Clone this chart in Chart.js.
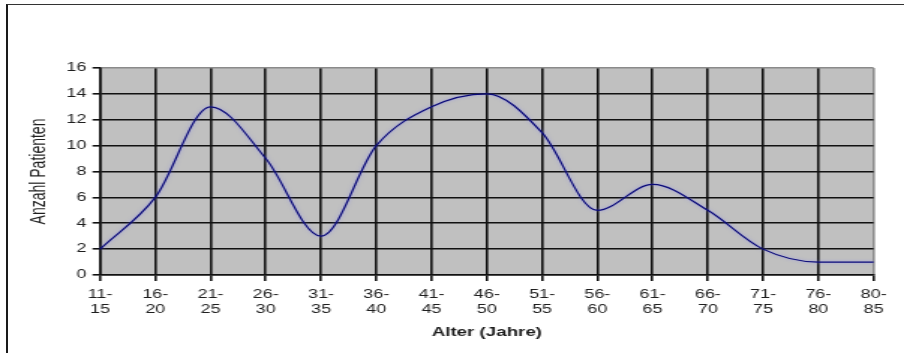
<!DOCTYPE html>
<html>
<head>
<meta charset="utf-8">
<script src="https://cdn.jsdelivr.net/npm/chart.js@4/dist/chart.umd.min.js"></script>
<style>
  html, body { margin: 0; padding: 0; background: #fff; }
  #wrap { position: relative; width: 904px; height: 353px; overflow: hidden; background: #fff; }
  #frame { position: absolute; left: 6px; top: 4px; width: 1000px; height: 1000px;
           border-left: 2px solid #1a1a1a; border-top: 1px solid #333; box-sizing: border-box; }
  #c { position: absolute; left: 0; top: 0; transform-origin: 0 0; }
</style>
</head>
<body>
<div id="wrap">
  <div id="frame"></div>
  <canvas id="c" width="603" height="353"></canvas>
</div>
<script>
// Age groups (two-line labels) and patient counts
const ageFrom = ['11-', '16-', '21-', '26-', '31-', '36-', '41-', '46-', '51-', '56-', '61-', '66-', '71-', '76-', '80-'];
const ageTo   = ['15', '20', '25', '30', '35', '40', '45', '50', '55', '60', '65', '70', '75', '80', '85'];
const patients = [2, 6, 13, 9, 3, 10, 13, 14, 11, 5, 7, 5, 2, 1, 1];
const yTicks = [0, 2, 4, 6, 8, 10, 12, 14, 16];

const xTitle = 'Alter (Jahre)';
const yTitle = 'Anzahl Patienten';

// The chart is laid out on a narrow canvas and widened to the page width
const canvas = document.getElementById('c');
const stretch = 904 / canvas.width;
canvas.style.transform = 'scaleX(' + stretch + ')';

const labels = ageFrom.map((a, i) => [a, ageTo[i]]);

const plotBackground = {
  id: 'plotBackground',
  beforeDraw(chart) {
    const { ctx, chartArea: a } = chart;
    ctx.save();
    ctx.fillStyle = '#c0c0c0';
    ctx.fillRect(a.left, a.top, a.right - a.left, a.bottom - a.top);
    ctx.restore();
  }
};

const lineGlow = {
  id: 'lineGlow',
  beforeDatasetsDraw(chart) {
    const ctx = chart.ctx;
    ctx.save();
    ctx.shadowColor = 'rgba(120,120,255,0.6)';
    ctx.shadowBlur = 3;
  },
  afterDatasetsDraw(chart) {
    chart.ctx.restore();
  }
};

const tickFont = { family: "'Liberation Sans', Arial, sans-serif", size: 12, lineHeight: 1.25 };

new Chart(canvas, {
  type: 'line',
  data: {
    labels: labels,
    datasets: [{
      data: patients,
      borderColor: '#0a0a78',
      borderWidth: 1.2,
      pointRadius: 0,
      pointHoverRadius: 0,
      cubicInterpolationMode: 'monotone',
      fill: false
    }]
  },
  plugins: [plotBackground, lineGlow],
  options: {
    responsive: false,
    animation: false,
    events: [],
    layout: { padding: { left: 0, right: 20.3, top: 68, bottom: 0 } },
    plugins: { legend: { display: false }, tooltip: { enabled: false } },
    scales: {
      x: {
        type: 'category',
        offset: false,
        grid: {
          color: (c) => (c.index === labels.length - 1 ? '#8a8a8a' : '#111'),
          lineWidth: 1.6,
          tickColor: '#111',
          tickLength: 6,
          drawTicks: true
        },
        border: { display: true, color: '#111', width: 1.6 },
        ticks: {
          color: '#1e1e1e',
          font: tickFont,
          padding: 6,
          maxRotation: 0,
          minRotation: 0,
          autoSkip: false
        },
        title: {
          display: true,
          text: xTitle,
          color: '#1e1e1e',
          font: { family: "'Liberation Sans', Arial, sans-serif", size: 12.5, weight: 'bold', lineHeight: 1.2 },
          padding: { top: 0, bottom: 12.5 }
        },
        afterFit(scale) { scale.height = 353 - 275; }
      },
      y: {
        min: 0,
        max: 16,
        afterBuildTicks(scale) { scale.ticks = yTicks.map(v => ({ value: v })); },
        grid: {
          color: (c) => (c.tick && c.tick.value === 16 ? '#8a8a8a' : '#111'),
          lineWidth: 1.6,
          tickColor: '#111',
          tickLength: 5,
          drawTicks: true
        },
        border: { display: true, color: '#111', width: 1.6 },
        ticks: {
          color: '#1e1e1e',
          font: tickFont,
          padding: 4
        },
        title: {
          display: true,
          text: yTitle,
          color: '#1e1e1e',
          font: { family: "'Liberation Sans', Arial, sans-serif", size: 14, lineHeight: 1.2 },
          padding: { top: 18, bottom: 0 }
        },
        afterFit(scale) { scale.width = 100 / stretch; }
      }
    }
  }
});
</script>
</body>
</html>
